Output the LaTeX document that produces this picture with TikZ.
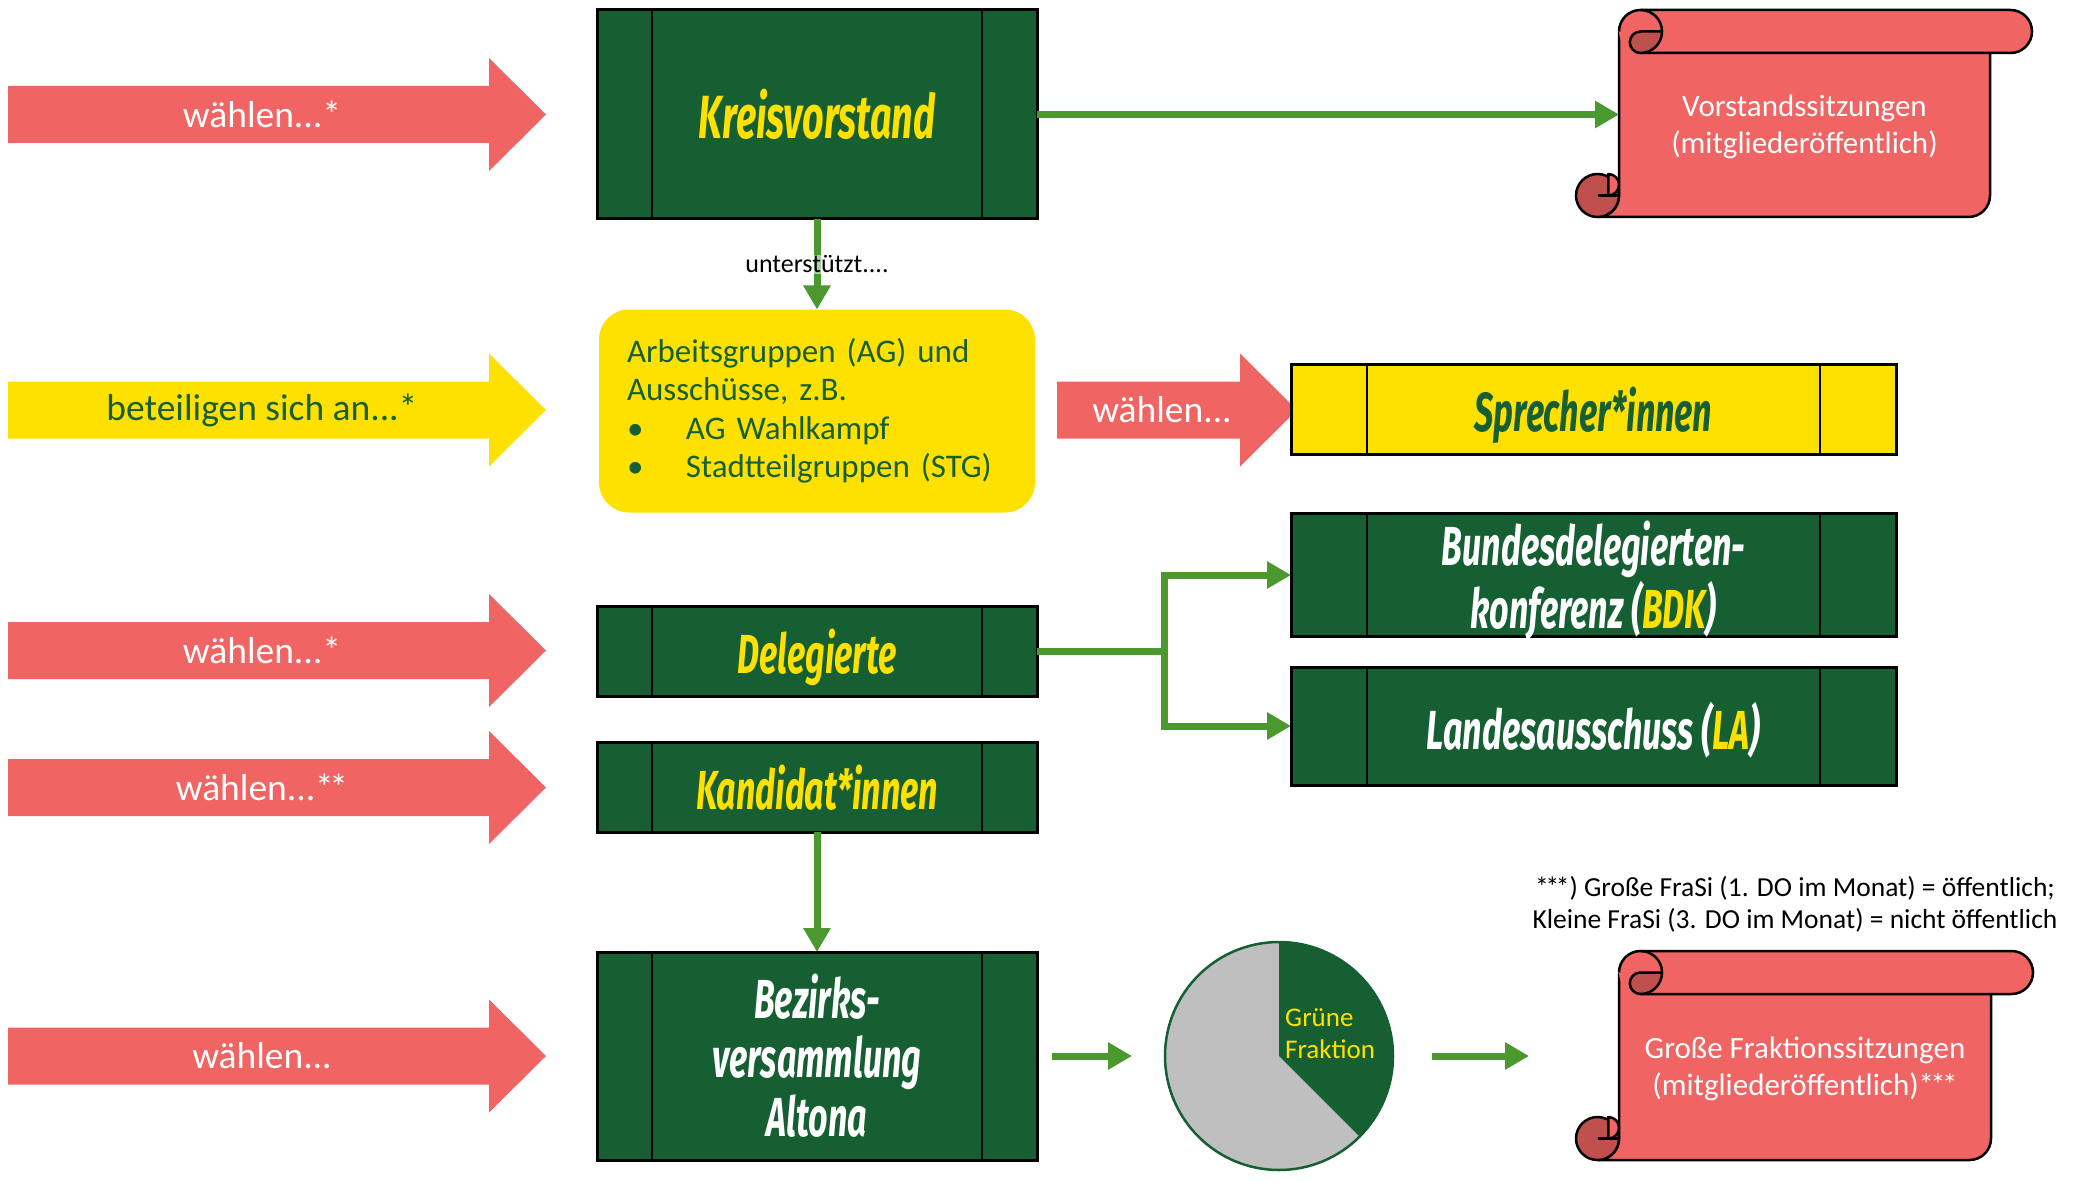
\documentclass[tikz,border=0pt]{standalone}
\usepackage{fontspec}
\setmainfont{Carlito}
\newfontfamily\tf{Fira Sans}
\usetikzlibrary{arrows.meta,calc}
\definecolor{dkg}{RGB}{22,95,50}
\definecolor{gy}{RGB}{255,225,0}
\definecolor{sred}{RGB}{240,100,100}
\definecolor{sdark}{RGB}{192,80,77}
\definecolor{lg}{RGB}{75,153,46}
\definecolor{pgray}{RGB}{191,191,191}
\newcommand\ttl[3][55]{{\tf\bfseries\itshape\fontsize{#2}{#1}\selectfont\raisebox{-8pt}[\height][\depth]{\scalebox{0.62}[1]{\begin{tabular}{@{}c@{}}#3\end{tabular}}}}}
\newcommand\sst{*\kern-0.12em}
% block arrow: x start, x head, x tip, y centre, colour
\newcommand\blockarrow[5]{\fill[#5] (#1,{#4-28.5}) -- (#2,{#4-28.5}) -- (#2,{#4-56.5}) -- (#3,#4) -- (#2,{#4+56.5}) -- (#2,{#4+28.5}) -- (#1,{#4+28.5}) -- cycle;}
% scroll: x0, top, x right of roll, x right of body, bottom
\newcommand\myscroll[5]{%
  \draw[sk, fill=sred] (#1,{#2+21.5}) -- (#1,{#5-21.5}) arc[start angle=0,end angle=90,radius=21.5] -- ({#4-21.5},#5) arc[start angle=90,end angle=0,radius=21.5] -- (#4,{#2+43});
  \fill[sred] (#1,{#2+21.5}) arc[start angle=180,end angle=270,radius=21.5] -- ({#3-21.5},#2) arc[start angle=270,end angle=450,radius=21.5] -- ({#1+21.5},{#2+43}) arc[start angle=90,end angle=180,radius=21.5] -- cycle;
  \draw[sk] (#1,{#2+21.5}) arc[start angle=180,end angle=270,radius=21.5] -- ({#3-21.5},#2) arc[start angle=270,end angle=450,radius=21.5] -- ({#1+21.5},{#2+43});
  \draw[sk] ({#1+21.5},#2) arc[start angle=270,end angle=360,radius=21.5];
  \draw[sk, fill=sdark] ({#1+21.5},{#2+21.5}) -- ({#1+43},{#2+21.5}) arc[start angle=0,end angle=90,radius=21.5] arc[start angle=90,end angle=270,radius=10.75] -- cycle;
  \draw[sk, fill=sdark] ({#1-21.5},{#5-21.5}) circle[radius=21.5];
  \draw[sk, fill=sred] ({#1-10.75},{#5-43}) arc[start angle=270,end angle=450,radius=10.75] -- cycle;
  \draw[sk] ({#1-21.5},{#5-21.5}) -- (#1,{#5-21.5});
}
\begin{document}
\begin{tikzpicture}[x=1pt,y=-1pt,
  sk/.style={draw=black, line width=2.5pt, line join=round},
  bars/.style={path picture={
    \draw[line width=2pt,black] ([xshift=#1]path picture bounding box.north west) -- ([xshift=#1]path picture bounding box.south west);
    \draw[line width=2pt,black] ([xshift=-#1]path picture bounding box.north east) -- ([xshift=-#1]path picture bounding box.south east);}},
  gbox/.style={draw=black, line width=3pt, fill=dkg, minimum width=440pt, minimum height=#1, inner sep=0pt, outer sep=0pt, bars=55pt},
  rbox/.style={draw=black, line width=3pt, fill=dkg, minimum width=605pt, minimum height=#1, inner sep=0pt, outer sep=0pt, bars=76pt},
  gline/.style={draw=lg, line width=7pt},
  garrow/.style={draw=lg, line width=7pt, -{Triangle[length=24pt,width=26pt]}},
  atext/.style={text=white, font=\fontsize{37.5}{40}\selectfont, inner sep=0pt},
  lbl/.style={font=\fontsize{26}{30}\selectfont, fill=white, fill opacity=0.55, text opacity=1, inner sep=1pt}
]
\useasboundingbox (0,0) rectangle (2074,1182);
\fill[white] (0,0) rectangle (2074,1182);

% block arrows
\blockarrow{8}{489}{546}{114.5}{sred}
\blockarrow{8}{489}{546}{410}{gy}
\blockarrow{8}{489}{546}{650.5}{sred}
\blockarrow{8}{489}{546}{787.5}{sred}
\blockarrow{8}{489}{546}{1056}{sred}
\blockarrow{1057}{1240}{1297}{410}{sred}
\node[atext] (a1) at (262,114.5) {wählen...*};
\node[atext, text=dkg] (a2) at (262,410) {beteiligen sich an...*};
\node[atext] (a3) at (262,650.5) {wählen...*};
\node[atext] (a4) at (262,787.5) {wählen...\sst*};
\node[atext] (a5) at (262,1056) {wählen...};
\node[atext] (a6) at (1162,410) {wählen...};

% boxes
\node[gbox=209pt] (kv) at (817,114.5) {\ttl{61}{\textcolor{gy}{Kreisvorstand}}};
\node[draw=none, fill=gy, rounded corners=30pt, minimum height=203pt, text width=380pt, inner xsep=28pt, inner ysep=0pt, outer sep=0pt, align=left, text=dkg, font=\fontsize{33}{38.5}\selectfont] (ag) at (817,411)
  {Arbeitsgruppen (AG) und\\Ausschüsse, z.B.\\\makebox[59pt][l]{\textbullet}AG Wahlkampf\\\makebox[59pt][l]{\textbullet}Stadtteilgruppen (STG)};
\node[rbox=90pt, fill=gy] (sp) at (1593.5,409) {\ttl{55}{\textcolor{dkg}{Sprecher*innen}}};
\node[rbox=118pt] (bdk) at (1593.5,575) {\ttl[53]{55}{\textcolor{white}{Bundesdelegierten-}\\\textcolor{white}{konferenz (}\textcolor{gy}{BDK}\textcolor{white}{)}}};
\node[rbox=118pt] (la) at (1593.5,726) {\ttl{55}{\textcolor{white}{Landesausschuss (}\textcolor{gy}{LA}\textcolor{white}{)}}};
\node[gbox=90pt] (del) at (817,651) {\ttl{55}{\textcolor{gy}{Delegierte}}};
\node[gbox=90pt] (kand) at (817,787) {\ttl{55}{\textcolor{gy}{Kandidat*innen}}};
\node[gbox=208pt] (bez) at (817,1056) {\ttl[57.5]{55}{\textcolor{white}{Bezirks-}\\\textcolor{white}{versammlung}\\\textcolor{white}{Altona}}};

% scrolls
\myscroll{1619}{10}{2032}{1990}{217}
\node[text=white, align=center, font=\fontsize{31}{37}\selectfont, minimum width=371pt, inner sep=0pt, outer sep=0pt] (vs) at (1804.5,127) {Vorstandssitzungen\\(mitgliederöffentlich)};
\myscroll{1619}{951}{2033}{1991}{1160}
\node[text=white, align=center, font=\fontsize{31}{37}\selectfont, minimum width=372pt, inner sep=0pt, outer sep=0pt] (fs) at (1805,1069) {Große Fraktionssitzungen\\(mitgliederöffentlich)\sst\sst*};

% pie
\node[circle, minimum size=228pt, inner sep=0pt, outer sep=0pt, fill=pgray] (pie) at (1279,1056) {};
\fill[dkg] (pie.center) -- (pie.north) arc[start angle=270,end angle=405,radius=114] -- cycle;
\draw[dkg, line width=2.5pt] (pie.center) circle[radius=114];
\node[anchor=west, text=gy, align=left, font=\fontsize{27}{32}\selectfont, inner sep=0pt] (gf) at (1285,1034) {Grüne\\Fraktion};

% footnote
\node[align=center, font=\fontsize{27.5}{32}\selectfont, inner sep=0pt] (fn) at (1795,904) {\sst\sst*) Große FraSi (1. DO im Monat) = öffentlich;\\Kleine FraSi (3. DO im Monat) = nicht öffentlich};

% connectors
\draw[garrow] (kv.east) -- (kv.east -| vs.west);
\draw[garrow] (kv.south) -- node[lbl] (ut) {unterstützt....} (ag.north);
\coordinate (fork) at ($(del.east)+(127,0)$);
\draw[gline] (del.east) -- (fork);
\draw[garrow] (fork) |- (bdk.west);
\draw[garrow] (fork) |- (la.west);
\draw[garrow] (kand.south) -- (bez.north);
\draw[garrow, shorten <=15pt, shorten >=33pt] (bez.east) -- (pie.west);
\draw[garrow, shorten <=39pt, shorten >=90pt] (pie.east) -- (fs.west |- pie.east);
\end{tikzpicture}
\end{document}
